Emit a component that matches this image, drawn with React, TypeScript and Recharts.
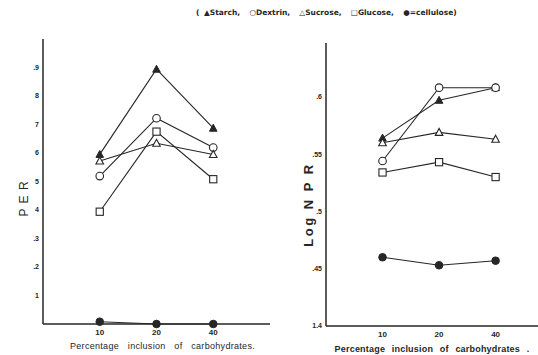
import { LineChart, Line, XAxis, YAxis, Label } from 'recharts';

const categories = ['10', '20', '40'];

// PER values (left panel)
const perStarch = [5.95, 8.94, 6.87];
const perDextrin = [5.19, 7.22, 6.19];
const perSucrose = [5.72, 6.34, 5.95];
const perGlucose = [3.94, 6.75, 5.08];
const perCellulose = [0.08, 0, 0];
const perTicks = [1, 2, 3, 4, 5, 6, 7, 8, 9];
const perTickLabels = ['1', '.2', '.3', '4', '5', '6', '7', '8', '.9'];

// Log NPR values (right panel)
const npStarch = [0.564, 0.597, 0.608];
const npDextrin = [0.544, 0.608, 0.608];
const npSucrose = [0.56, 0.569, 0.563];
const npGlucose = [0.534, 0.543, 0.53];
const npCellulose = [0.46, 0.453, 0.457];
const npTicks = [0.4, 0.45, 0.5, 0.55, 0.6];
const npTickLabels = ['1.4', '.45', '.5', '.55', '.6'];

const INK = '#262626';
const FONT = '"Liberation Sans", Arial, sans-serif';

const buildRows = (s: number[], d: number[], su: number[], g: number[], c: number[]) =>
  categories.map((cat, i) => ({
    x: i + 1,
    cat,
    starch: s[i],
    dextrin: d[i],
    sucrose: su[i],
    glucose: g[i],
    cellulose: c[i],
  }));

const perData = buildRows(perStarch, perDextrin, perSucrose, perGlucose, perCellulose);
const npData = buildRows(npStarch, npDextrin, npSucrose, npGlucose, npCellulose);

const FilledTriangle = (props: any) => {
  const { cx, cy } = props;
  if (cx == null || cy == null) return null;
  return <path d={`M${cx},${cy - 4} L${cx + 3.8},${cy + 3} L${cx - 3.8},${cy + 3} Z`} fill={INK} stroke={INK} />;
};
const OpenTriangle = (props: any) => {
  const { cx, cy } = props;
  if (cx == null || cy == null) return null;
  return <path d={`M${cx},${cy - 4} L${cx + 3.8},${cy + 3} L${cx - 3.8},${cy + 3} Z`} fill="#fff" stroke={INK} strokeWidth={1.1} />;
};
const OpenCircle = (props: any) => {
  const { cx, cy } = props;
  if (cx == null || cy == null) return null;
  return <circle cx={cx} cy={cy} r={3.8} fill="#fff" stroke={INK} strokeWidth={1.1} />;
};
const OpenSquare = (props: any) => {
  const { cx, cy } = props;
  if (cx == null || cy == null) return null;
  return <rect x={cx - 3.6} y={cy - 3.6} width={7.2} height={7.2} fill="#fff" stroke={INK} strokeWidth={1.1} />;
};
const FilledCircle = (props: any) => {
  const { cx, cy } = props;
  if (cx == null || cy == null) return null;
  return <circle cx={cx} cy={cy} r={3.8} fill={INK} stroke={INK} />;
};

const series = [
  { key: 'starch', dot: FilledTriangle },
  { key: 'dextrin', dot: OpenCircle },
  { key: 'sucrose', dot: OpenTriangle },
  { key: 'glucose', dot: OpenSquare },
  { key: 'cellulose', dot: FilledCircle },
];

const tickStyle = { fontSize: 7, fill: INK, fontFamily: FONT, fontWeight: 700 };
const xTickStyle = { fontSize: 8, fill: INK, fontFamily: FONT, fontWeight: 700 };

const renderLines = () =>
  series.map((s) => (
    <Line
      key={s.key}
      dataKey={s.key}
      stroke={INK}
      strokeWidth={1.1}
      dot={<s.dot />}
      activeDot={false}
      isAnimationActive={false}
    />
  ));

export default function App() {
  return (
    <div style={{ position: 'absolute', left: 0, top: 0, width: 538, height: 355, background: '#fff', fontFamily: FONT }}>
      <div
        style={{
          position: 'absolute',
          left: 196,
          top: 8,
          fontSize: 7.5,
          fontWeight: 700,
          color: INK,
          whiteSpace: 'nowrap',
          fontFamily: '"DejaVu Sans", sans-serif',
          wordSpacing: 2,
        }}
      >
        ( ▲Starch,&nbsp; ○Dextrin,&nbsp; △Sucrose,&nbsp; □Glucose,&nbsp; ●=cellulose)
      </div>

      <div style={{ position: 'absolute', left: 0, top: 0 }}>
        <LineChart width={280} height={355} data={perData} margin={{ top: 39, right: 10, left: 0, bottom: 0 }}>
          <XAxis
            type="number"
            dataKey="x"
            domain={[0, 4]}
            ticks={[1, 2, 3]}
            tickFormatter={(v: number) => categories[v - 1]}
            allowDataOverflow
            height={31}
            tickLine={false}
            tickSize={0}
            tickMargin={5}
            tick={xTickStyle}
            axisLine={{ stroke: INK, strokeWidth: 1.5 }}
          >
            <Label
              value="Percentage  inclusion  of  carbohydrates."
              position="insideBottom"
              offset={6}
              dx={6}
              style={{ fontSize: 9, fill: INK, fontFamily: FONT, wordSpacing: 6, letterSpacing: 0.3 }}
            />
          </XAxis>
          <YAxis
            type="number"
            domain={[0, 10]}
            ticks={perTicks}
            tickFormatter={(v: number) => perTickLabels[perTicks.indexOf(v)]}
            width={43}
            tickLine={false}
            tickSize={0}
            tickMargin={4}
            tick={tickStyle}
            axisLine={{ stroke: INK, strokeWidth: 1.5 }}
          >
            <Label
              value="P E R"
              angle={-90}
              position="insideLeft"
              offset={24}
              dy={17}
              style={{ fontSize: 12, fill: INK, fontFamily: FONT, textAnchor: 'middle', letterSpacing: 1 }}
            />
          </YAxis>
          {renderLines()}
        </LineChart>
      </div>

      <div style={{ position: 'absolute', left: 270, top: 0 }}>
        <LineChart width={268} height={355} data={npData} margin={{ top: 43, right: 0, left: 0, bottom: 0 }}>
          <XAxis
            type="number"
            dataKey="x"
            domain={[0, 3.75]}
            ticks={[1, 2, 3]}
            tickFormatter={(v: number) => categories[v - 1]}
            allowDataOverflow
            height={29}
            tickLine={false}
            tickSize={0}
            tickMargin={5}
            tick={xTickStyle}
            axisLine={{ stroke: INK, strokeWidth: 1.5 }}
          >
            <Label
              value="Percentage  inclusion  of  carbohydrates ."
              position="insideBottom"
              offset={3}
              style={{ fontSize: 9, fill: INK, fontFamily: FONT, fontWeight: 700, wordSpacing: 4, letterSpacing: 0.2 }}
            />
          </XAxis>
          <YAxis
            type="number"
            domain={[0.4, 0.647]}
            ticks={npTicks}
            tickFormatter={(v: number) => npTickLabels[npTicks.indexOf(v)]}
            allowDataOverflow
            width={56}
            tickLine={false}
            tickSize={0}
            tickMargin={4}
            tick={tickStyle}
            axisLine={{ stroke: INK, strokeWidth: 1.5 }}
          >
            <Label
              value="Log N P R"
              angle={-90}
              position="insideLeft"
              offset={38}
              dy={20}
              style={{ fontSize: 13, fill: INK, fontFamily: FONT, fontWeight: 700, textAnchor: 'middle', letterSpacing: 2.5 }}
            />
          </YAxis>
          {renderLines()}
        </LineChart>
      </div>
    </div>
  );
}
